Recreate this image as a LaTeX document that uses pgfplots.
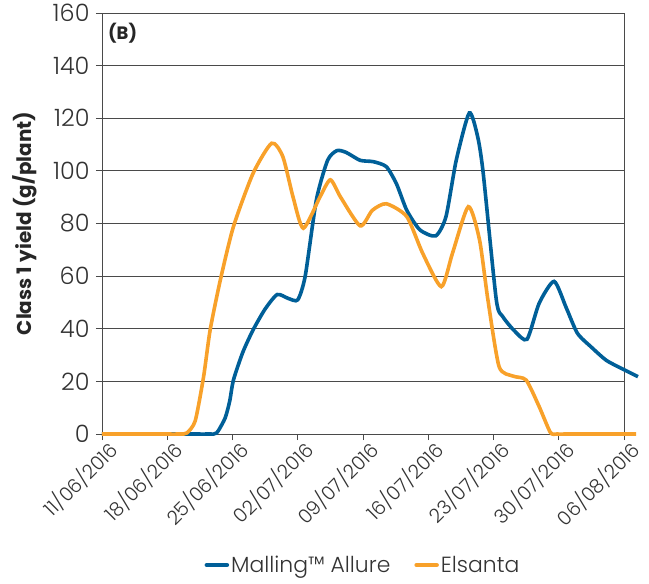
\documentclass[border=0pt]{standalone}
\usepackage{fontspec}
\setmainfont{Poppins}
\newfontfamily\lightfont{Poppins Light}
\usepackage{pgfplots}
\pgfplotsset{compat=1.18}
\definecolor{mallblue}{HTML}{005F98}
\definecolor{elsorange}{HTML}{F8A12A}
\definecolor{gridgray}{HTML}{4A4A4A}
\definecolor{txtgray}{HTML}{333333}
\begin{document}
\begin{tikzpicture}
\begin{axis}[
    name=ax,
    scale only axis,
    width=522bp, height=421bp,
    xmin=0, xmax=56, ymin=0, ymax=160,
    clip=false,
    axis line style={gridgray, line width=0.9bp},
    xtick={0,7,...,56},
    xticklabels={11/06/2016,18/06/2016,25/06/2016,02/07/2016,09/07/2016,16/07/2016,23/07/2016,30/07/2016,06/08/2016},
    x tick label style={rotate=45, anchor=north east, font=\lightfont\fontsize{19.5}{21}\selectfont, text=txtgray, inner sep=1bp, xshift=5bp, yshift=-1bp},
    ytick={0,20,...,160},
    y tick label style={font=\lightfont\fontsize{24}{26}\selectfont, text=txtgray, xshift=-3bp},
    /pgf/number format/assume math mode=true,
    tick align=outside,
    major tick length=6bp,
    tick style={gridgray, line width=0.9bp},
    xtick pos=bottom, ytick pos=left,
    ymajorgrids,
    grid style={gridgray, line width=0.8bp},
    ylabel={\bfseries Class 1 yield (g/plant)},
    ylabel style={font=\fontsize{20}{22}\selectfont, text=black!85, at={(rel axis cs:-0.148,0.5)}, anchor=center},
    legend columns=2,
    legend style={at={(rel axis cs:0.5,0)}, anchor=center, yshift=-131bp, draw=none,
        font=\lightfont\fontsize{22}{24}\selectfont, text=txtgray,
        /tikz/every even column/.append style={column sep=22bp}},
    legend image code/.code={\draw[#1, line cap=round, line width=4.5bp] (0bp,0bp) -- (20bp,0bp);},
]
\addplot[mallblue, line width=3.6bp, smooth, tension=0.4] coordinates {
(0,0) (3,0) (6,0) (9,0) (11.5,0) (12.3,0.4) (13.2,6) (13.7,12.5) (14.1,20.5) (15.1,31) (16.2,39.5) (17.5,47.5) (18.8,53) (20.0,51.5) (21.0,51) (21.8,60) (23.0,89) (24.2,104) (25.2,107.7) (26.2,107) (27.7,104) (29.1,103.5) (30.5,101.6) (31.6,95) (32.7,85) (34.1,77.6) (35.8,75.3) (36.9,82.6) (38.0,104) (39.4,122) (40.3,113) (40.9,99) (42.3,51) (43.0,44.6) (44.3,39) (45.6,36) (46.9,49.7) (48.5,58) (49.8,48) (51.0,38.3) (52.5,33) (54.1,28) (55.8,24.8) (57.5,21.8)
};
\addlegendentry{Malling™ Allure}
\addplot[elsorange, line width=3.6bp, smooth, tension=0.4] coordinates {
(0,0) (3,0) (6,0) (8.3,0) (9.1,0.4) (10.0,5) (10.9,21.8) (11.6,39.5) (12.7,58.6) (14.1,78.8) (16.2,99) (18.2,110.5) (19.4,105.4) (20.5,90) (21.6,78.2) (23.4,90.2) (24.5,96.6) (25.6,90) (27.7,79.1) (29.0,85) (30.5,87.5) (32.7,82.6) (34.4,68.7) (36.4,56) (37.6,68.7) (39.3,86.4) (40.5,73.8) (41.4,51) (42.6,25.6) (44.1,22) (45.5,20.5) (46.9,10.4) (48.1,0.6) (48.8,0) (50,0) (52,0) (55,0) (57.3,0)
};
\addlegendentry{Elsanta}
\node[anchor=north west, font=\bfseries\fontsize{18}{20}\selectfont, text=black!85] at (rel axis cs:0.005,0.985) {(B)};
\end{axis}
\pgfresetboundingbox
\path ([xshift=-102bp,yshift=-150bp]ax.south west) rectangle ([xshift=25bp,yshift=13bp]ax.north east);
\end{tikzpicture}
\end{document}
